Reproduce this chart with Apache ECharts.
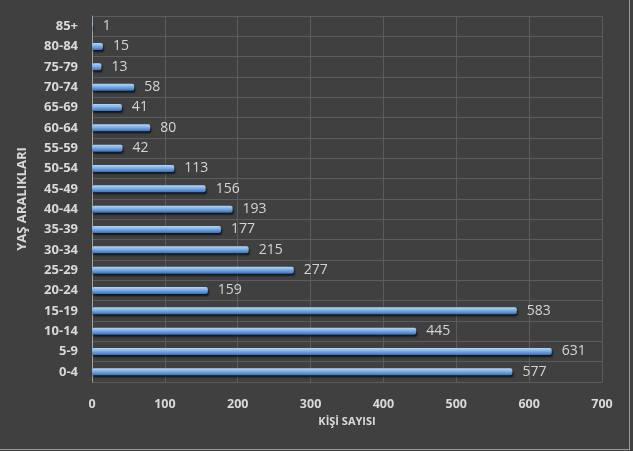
<!DOCTYPE html>
<html>
<head>
<meta charset="utf-8">
<script src="https://cdn.jsdelivr.net/npm/echarts@6/dist/echarts.min.js"></script>
<style>
  html, body { margin: 0; padding: 0; background: #404040; }
  #frame {
    position: absolute; left: 0; top: 0; width: 630px; height: 450px;
    box-sizing: border-box; border-right: 1px solid #9a9a9a; border-bottom: 1px solid #9a9a9a;
  }
  #chart { position: absolute; left: 0; top: 0; width: 633px; height: 451px; }
</style>
</head>
<body>
<div id="frame"></div>
<div id="chart"></div>
<script>
// yaş aralıkları, alttan üste
const categories = ['0-4', '5-9', '10-14', '15-19', '20-24', '25-29', '30-34', '35-39', '40-44',
    '45-49', '50-54', '55-59', '60-64', '65-69', '70-74', '75-79', '80-84', '85+'];
const values = [577, 631, 445, 583, 159, 277, 215, 177, 193, 156, 113, 42, 80, 41, 58, 13, 15, 1];
const xTicks = [0, 100, 200, 300, 400, 500, 600, 700];

const fontFam = '"Open Sans", sans-serif';

function drawChart() {
    const chart = echarts.init(document.getElementById('chart'));

    const option = {
        backgroundColor: 'transparent',
        animation: false,
        grid: { left: 92, right: 31, top: 16, bottom: 69 },
        xAxis: {
            type: 'value',
            min: xTicks[0],
            max: xTicks[xTicks.length - 1],
            interval: 100,
            name: 'KİŞİ SAYISI',
            nameLocation: 'middle',
            nameGap: 34,
            nameTextStyle: { color: '#d9d9d9', fontWeight: 'bold', fontSize: 11, fontFamily: fontFam },
            axisLine: { show: false },
            axisTick: { show: false },
            axisLabel: { color: '#d9d9d9', fontWeight: 'bold', fontSize: 12.5, fontFamily: fontFam, margin: 16 },
            splitLine: { lineStyle: { color: '#5c5c5c', width: 1 } }
        },
        yAxis: {
            type: 'category',
            data: categories,
            name: 'YAŞ ARALIKLARI',
            nameLocation: 'middle',
            nameGap: 63,
            nameRotate: 90,
            nameTextStyle: { color: '#d9d9d9', fontWeight: 'bold', fontSize: 13, fontFamily: fontFam },
            axisLine: { lineStyle: { color: '#a0a0a0', width: 1 } },
            axisTick: { show: false },
            axisLabel: { color: '#d9d9d9', fontWeight: 'bold', fontSize: 13, fontFamily: fontFam, margin: 14 },
            splitLine: { show: true, lineStyle: { color: '#5c5c5c', width: 1 } }
        },
        series: [{
            type: 'bar',
            data: values,
            barWidth: 7,
            itemStyle: {
                color: new echarts.graphic.LinearGradient(0, 0, 0, 1, [
                    { offset: 0, color: '#b4d6fa' },
                    { offset: 0.45, color: '#7aaee6' },
                    { offset: 1, color: '#3d6fb4' }
                ]),
                borderRadius: 2,
                shadowColor: 'rgba(0,0,0,0.7)',
                shadowBlur: 2,
                shadowOffsetY: 2,
                shadowOffsetX: 1
            },
            label: {
                show: true,
                position: 'right',
                distance: 10,
                color: '#d4d4d4',
                fontSize: 14,
                fontFamily: fontFam
            }
        }]
    };

    chart.setOption(option);
}

drawChart();
</script>
</body>
</html>
